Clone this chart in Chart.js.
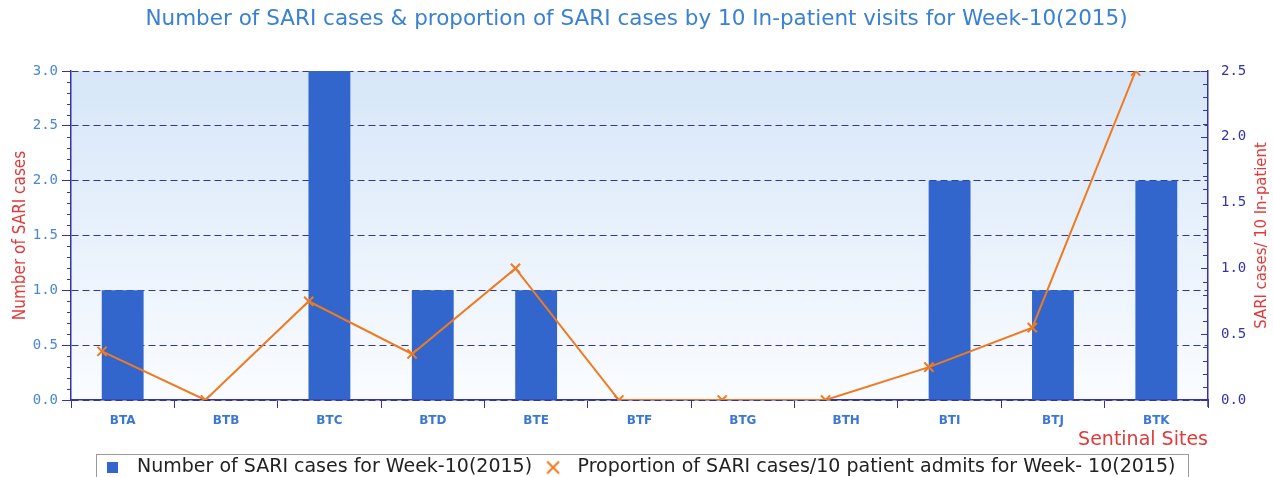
<!DOCTYPE html>
<html lang="en">
  <head>
    <meta charset="UTF-8" />
    <title>SARI cases Week-10(2015)</title>
    <script src="https://cdn.jsdelivr.net/npm/chart.js"></script>
    <style>
      html, body { margin: 0; padding: 0; background: #fff; overflow: hidden; }
      #wrap { width: 1273px; height: 487px; }
    </style>
  </head>
  <body>
    <div id="wrap"><canvas id="chart" width="1273" height="487"></canvas></div>

    <script>
      // -------- data -------- //
      const sites = ["BTA", "BTB", "BTC", "BTD", "BTE", "BTF", "BTG", "BTH", "BTI", "BTJ", "BTK"];
      const sariCases = [1, 0, 3, 1, 1, 0, 0, 0, 2, 1, 2];
      const sariPer10 = [0.37, 0, 0.75, 0.35, 1.0, 0, 0, 0, 0.25, 0.55, 2.5];
      const leftRange = [0, 3];
      const rightRange = [0, 2.5];

      const navy = "#3434a4";
      const red = "#e03a3a";
      const barBlue = "#3366cc";
      const orange = "#f07a20";
      const lineShift = -0.2; // line points sit at the left edge of each bar

      // legend markers: small blue square and orange x
      const square = document.createElement("canvas");
      square.width = 11;
      square.height = 11;
      const sq = square.getContext("2d");
      sq.fillStyle = barBlue;
      sq.fillRect(0, 0, 11, 11);

      const cross = document.createElement("canvas");
      cross.width = 16;
      cross.height = 16;
      const cx = cross.getContext("2d");
      cx.strokeStyle = orange;
      cx.lineWidth = 2;
      cx.beginPath();
      cx.moveTo(2, 2); cx.lineTo(14, 14);
      cx.moveTo(14, 2); cx.lineTo(2, 14);
      cx.stroke();

      // -------- plugins -------- //
      const plotBg = {
        id: "plotBg",
        beforeDraw(chart) {
          const { ctx, chartArea: a } = chart;
          const g = ctx.createLinearGradient(0, a.top, 0, a.bottom);
          g.addColorStop(0, "#d6e6f8");
          g.addColorStop(1, "#fafcff");
          ctx.save();
          ctx.fillStyle = g;
          ctx.fillRect(a.left, a.top, a.right - a.left, a.bottom - a.top);
          ctx.restore();
        },
      };

      const extras = {
        id: "extras",
        afterDraw(chart) {
          const { ctx, chartArea: a } = chart;
          const y = chart.scales.y;
          const y1 = chart.scales.y1;
          ctx.save();
          ctx.strokeStyle = navy;
          ctx.lineWidth = 1;
          // minor ticks, left axis (outside)
          for (let i = 0; i <= 30; i++) {
            if (i % 5 === 0) continue;
            const py = Math.round(y.getPixelForValue(i / 10)) + 0.5;
            ctx.beginPath();
            ctx.moveTo(a.left - 4, py);
            ctx.lineTo(a.left, py);
            ctx.stroke();
          }
          // ticks, right axis (inside)
          for (let i = 0; i <= 25; i++) {
            const py = Math.round(y1.getPixelForValue(i / 10)) + 0.5;
            const len = i % 5 === 0 ? 7 : 5;
            ctx.beginPath();
            ctx.moveTo(a.right - len, py);
            ctx.lineTo(a.right, py);
            ctx.stroke();
          }
          // right axis runs a little below the plot
          ctx.lineWidth = 1.5;
          ctx.beginPath();
          ctx.moveTo(a.right, a.bottom);
          ctx.lineTo(a.right, a.bottom + 7);
          ctx.stroke();

          // right axis title, reading bottom to top
          ctx.translate(1262, (a.top + a.bottom) / 2);
          ctx.rotate(-Math.PI / 2);
          ctx.fillStyle = red;
          ctx.font = "16.5px 'DejaVu Sans Condensed'";
          ctx.textAlign = "center";
          ctx.textBaseline = "middle";
          ctx.fillText("SARI cases/ 10 In-patient", 0, 0);
          ctx.restore();

          // frame round the legend
          const hb = chart.legend.legendHitBoxes;
          if (hb && hb.length) {
            const l = hb[0].left - 2;
            const r = hb[hb.length - 1].left + hb[hb.length - 1].width + 12;
            const t = hb[0].top - 4;
            ctx.save();
            ctx.strokeStyle = "#9a9a9a";
            ctx.lineWidth = 1;
            ctx.strokeRect(Math.round(l) + 0.5, Math.round(t) + 0.5, Math.round(r - l), 40);
            ctx.restore();
          }
        },
      };

      // -------- chart -------- //
      new Chart(document.getElementById("chart"), {
        type: "bar",
        data: {
          labels: sites,
          datasets: [
            {
              label: "Number of SARI cases for Week-10(2015)",
              data: sariCases,
              backgroundColor: barBlue,
              yAxisID: "y",
              xAxisID: "x",
              grouped: false,
              categoryPercentage: 1,
              barPercentage: 0.405,
              order: 1,
            },
            {
              type: "line",
              label: "Proportion of SARI cases/10 patient admits for Week- 10(2015)",
              data: sariPer10.map((v, i) => ({ x: i + lineShift, y: v })),
              borderColor: orange,
              backgroundColor: orange,
              borderWidth: 2,
              pointStyle: "crossRot",
              pointRadius: 6.5,
              pointBorderWidth: 2,
              pointBorderColor: orange,
              yAxisID: "y1",
              xAxisID: "xl",
              order: 0,
            },
          ],
        },
        options: {
          responsive: false,
          animation: false,
          layout: { padding: 0 },
          plugins: {
            tooltip: { enabled: false },
            title: {
              display: true,
              text: "Number of SARI cases & proportion of SARI cases by 10 In-patient visits for Week-10(2015)",
              color: "#3a80d6",
              font: { family: "'DejaVu Sans'", size: 21.5, weight: "normal" },
              padding: { top: 7, bottom: 38.2 },
            },
            legend: {
              position: "bottom",
              labels: {
                usePointStyle: true,
                pointStyleWidth: 30,
                boxHeight: 9,
                padding: 6,
                color: "#222",
                font: { family: "'DejaVu Sans'", size: 19 },
                sort: (a, b) => a.datasetIndex - b.datasetIndex,
                generateLabels: (chart) => {
                  const items = Chart.defaults.plugins.legend.labels.generateLabels(chart);
                  items.forEach((it) => { it.pointStyle = it.datasetIndex === 0 ? square : cross; });
                  return items;
                },
              },
            },
          },
          scales: {
            x: {
              type: "category",
              offset: true,
              afterFit: (s) => { s.height = 52; },
              grid: { drawOnChartArea: false, offset: true, tickLength: 8, color: navy },
              border: { color: navy, width: 1.5 },
              ticks: {
                color: "#3b78d4",
                maxRotation: 0,
                padding: 6,
                font: { family: "'DejaVu Sans'", size: 12, weight: "bold" },
              },
              title: {
                display: true,
                text: "Sentinal Sites",
                align: "end",
                color: red,
                font: { family: "'DejaVu Sans'", size: 19 },
                padding: { top: 0, bottom: 1 },
              },
            },
            xl: { type: "linear", display: false, offset: false, min: -0.5, max: 10.5 },
            y: {
              position: "left",
              min: leftRange[0],
              max: leftRange[1],
              afterFit: (s) => { s.width = 71; },
              ticks: {
                stepSize: 0.5,
                color: "#4a86d8",
                padding: 4,
                font: { family: "'DejaVu Sans Mono'", size: 14 },
                callback: (v) => v.toFixed(1),
              },
              grid: { color: navy, tickColor: navy, tickLength: 9, lineWidth: 1 },
              border: { color: navy, width: 1.5, dash: [7, 4] },
              title: {
                display: true,
                text: "Number of SARI cases",
                color: red,
                font: { family: "'DejaVu Sans Condensed'", size: 17 },
                padding: { top: 10, bottom: 0 },
              },
            },
            y1: {
              position: "right",
              min: rightRange[0],
              max: rightRange[1],
              afterFit: (s) => { s.width = 65; },
              ticks: {
                stepSize: 0.5,
                color: "#3535a5",
                padding: 13,
                font: { family: "'DejaVu Sans Mono'", size: 14 },
                callback: (v) => v.toFixed(1),
              },
              grid: { display: false, drawTicks: false },
              border: { color: navy, width: 1.5 },
            },
          },
        },
        plugins: [plotBg, extras],
      });
    </script>
  </body>
</html>
